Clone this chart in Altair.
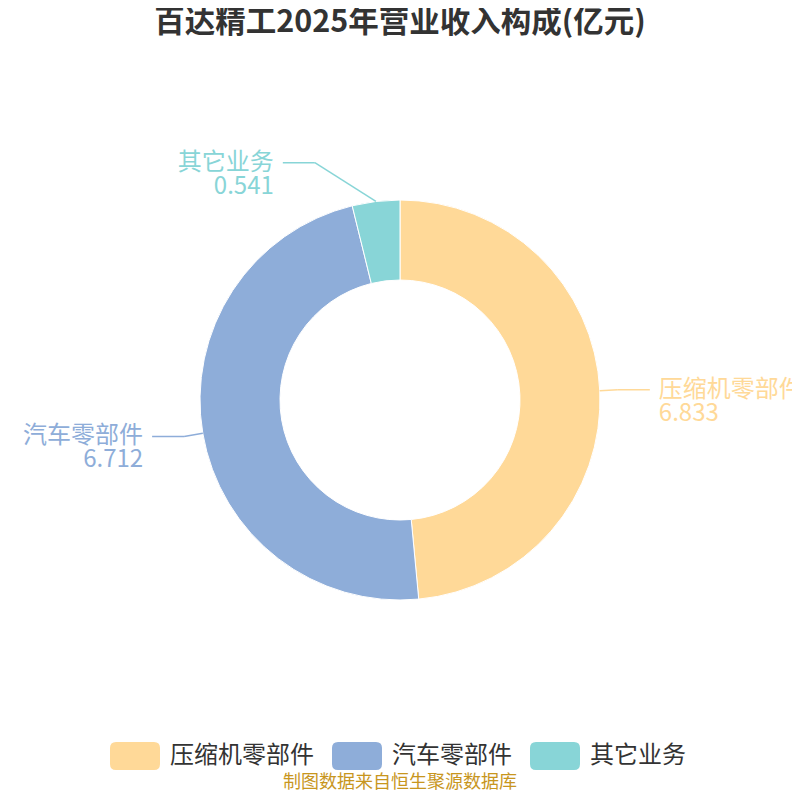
import altair as alt
import pandas as pd

# ---- data ----
names = ["压缩机零部件", "汽车零部件", "其它业务"]
values = [6.833, 6.712, 0.541]
value_text = ["6.833", "6.712", "0.541"]
colors = ["#FFD998", "#8EADD9", "#88D5D7"]
title_text = "百达精工2025年营业收入构成(亿元)"
source_text = "制图数据来自恒生聚源数据库"

FONT = "Noto Sans CJK SC"
W, H = 784, 768
PAD_T = 8
R_OUT, R_IN = 200, 120
LEN1, LEN2, GAP = 18, 32, 9
LIFT_X, LIFT_Y = 67, 24  # extra push for labels near the vertical (ECharts-like layout)

df = pd.DataFrame({
    "name": names,
    "value": values,
    "vtext": value_text,
    "ord": list(range(len(names))),
})
df["label"] = df["name"] + "|" + df["vtext"]

color = alt.Color(
    "name:N",
    scale=alt.Scale(domain=names, range=colors),
    legend=alt.Legend(
        title=None,
        orient="none",
        legendX=102,
        legendY=715,
        direction="horizontal",
        symbolType="M-0.76,-0.56 L0.76,-0.56 Q1,-0.56 1,-0.32 L1,0.32 Q1,0.56 0.76,0.56 L-0.76,0.56 Q-1,0.56 -1,0.32 L-1,-0.32 Q-1,-0.56 -0.76,-0.56 Z",
        symbolSize=2500,
        symbolStrokeWidth=0,
        symbolOpacity=1,
        labelFontSize=24,
        labelFont=FONT,
        labelColor="#333333",
        labelOffset=10,
        columnPadding=18,
        padding=0,
    ),
    sort=names,
)
color_nolegend = alt.Color("name:N", scale=alt.Scale(domain=names, range=colors), legend=None)

base = alt.Chart(df)

arc = base.mark_arc(outerRadius=R_OUT, innerRadius=R_IN, stroke="white", strokeWidth=1).encode(
    theta=alt.Theta("value:Q", stack=True),
    color=color,
    order=alt.Order("ord:Q"),
)

geo = base.transform_joinaggregate(
    total="sum(value)"
).transform_window(
    cum="sum(value)", sort=[alt.SortField("ord")], frame=[None, 0]
).transform_calculate(
    mid="(datum.cum - datum.value/2) / datum.total * 2 * PI",
).transform_calculate(
    sx="sin(datum.mid)", cy="cos(datum.mid)",
).transform_calculate(
    side="datum.sx >= 0 ? 1 : -1",
    k="1 - abs(sin(datum.mid))",
).transform_calculate(
    x0=f"{R_OUT}*datum.sx", y0=f"{R_OUT}*datum.cy",
    x1=f"{R_OUT + LEN1}*datum.sx + datum.side*{LIFT_X}*datum.k",
    y1=f"{R_OUT + LEN1}*datum.cy + {LIFT_Y}*datum.cy*datum.k",
).transform_calculate(
    x2=f"datum.x1 + datum.side*{LEN2}",
)

xs = alt.Scale(domain=[-W / 2, W / 2], nice=False, zero=False)
ys = alt.Scale(domain=[-H / 2, H / 2], nice=False, zero=False)

seg1 = geo.mark_rule(strokeWidth=1.5).encode(
    x=alt.X("x0:Q", scale=xs, axis=None), y=alt.Y("y0:Q", scale=ys, axis=None),
    x2="x1:Q", y2="y1:Q", color=color_nolegend,
)
seg2 = geo.mark_rule(strokeWidth=1.5).encode(
    x=alt.X("x1:Q", scale=xs, axis=None), y=alt.Y("y1:Q", scale=ys, axis=None),
    x2="x2:Q", y2="y1:Q", color=color_nolegend,
)
lab_r = geo.transform_filter("datum.side > 0").mark_text(
    align="left", baseline="middle", dx=GAP, fontSize=24, font=FONT, lineBreak="|", lineHeight=24
).encode(
    x=alt.X("x2:Q", scale=xs, axis=None), y=alt.Y("y1:Q", scale=ys, axis=None),
    text="label:N", color=color_nolegend,
)
lab_l = geo.transform_filter("datum.side < 0").mark_text(
    align="right", baseline="middle", dx=-GAP, fontSize=24, font=FONT, lineBreak="|", lineHeight=24
).encode(
    x=alt.X("x2:Q", scale=xs, axis=None), y=alt.Y("y1:Q", scale=ys, axis=None),
    text="label:N", color=color_nolegend,
)

title = alt.Chart(pd.DataFrame({"t": [title_text]})).mark_text(
    fontSize=30.5, fontWeight="bold", font=FONT, color="#333333", baseline="middle", align="center"
).encode(x=alt.value(W / 2), y=alt.value(23 - 8 - PAD_T), text="t:N")

source = alt.Chart(pd.DataFrame({"t": [source_text]})).mark_text(
    fontSize=18, font=FONT, color="#C8961E", baseline="middle", align="center"
).encode(x=alt.value(W / 2), y=alt.value(783 - 8 - PAD_T), text="t:N")

chart = alt.layer(arc, seg1, seg2, lab_r, lab_l, title, source).properties(
    width=W, height=H,
    padding={"top": PAD_T, "bottom": PAD_T, "left": 0, "right": 0},
    autosize=alt.AutoSizeParams(type="none"),
).configure_view(stroke=None)

chart.save("out.html", embed_options={"renderer": "svg", "actions": False})
